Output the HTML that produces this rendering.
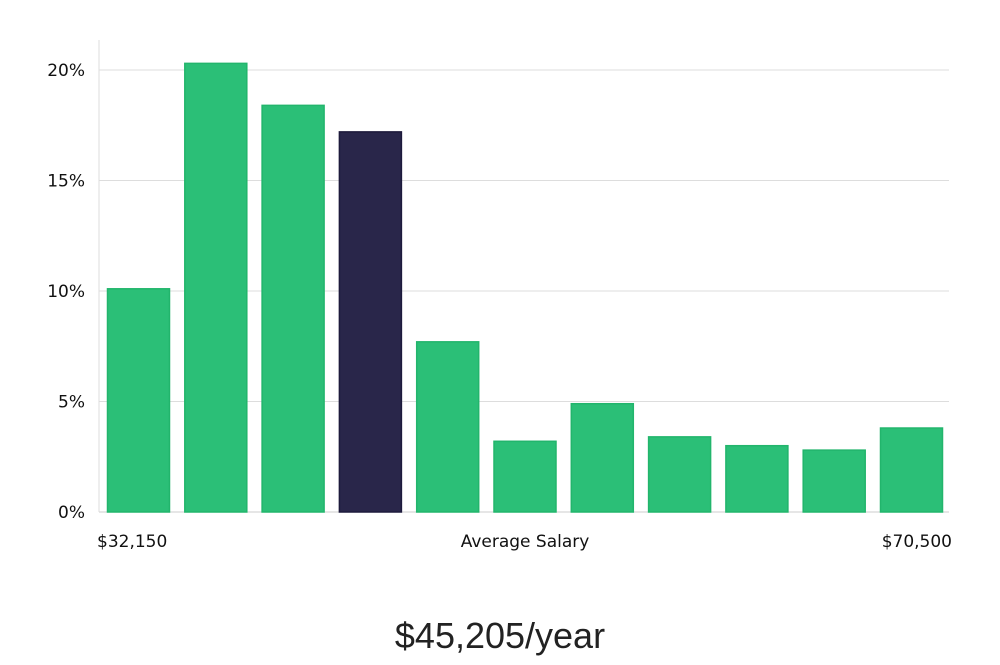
<!DOCTYPE html>
<html><head><meta charset="utf-8"><style>
body{margin:0;background:#fff;}
svg text{font-family:"DejaVu Sans","Liberation Sans",sans-serif;}
</style></head><body>
<svg id="chart" width="1000" height="660" xmlns="http://www.w3.org/2000/svg">
<g id="grid"></g><g id="bars"></g><g id="labels"></g>
<text x="500" y="648" text-anchor="middle" font-size="36" fill="#222" style="font-family:'Liberation Sans',sans-serif">$45,205/year</text>
</svg>
<script>
const values=[10.1,20.3,18.4,17.2,7.7,3.2,4.9,3.4,3.0,2.8,3.8];
const highlight=[false,false,false,true,false,false,false,false,false,false,false];
const yTicks=[0,5,10,15,20];
const yTickLabels=["0%","5%","10%","15%","20%"];
const xLabels=["$32,150","Average Salary","$70,500"];
const NS="http://www.w3.org/2000/svg";
const y=v=>512-v*22.1;
const x=i=>107+i*77.3;
function mk(t,a,p){const e=document.createElementNS(NS,t);for(const k in a)e.setAttribute(k,a[k]);p.appendChild(e);return e;}
const g=document.getElementById('grid');
yTicks.forEach((t,i)=>{
 const l=mk('line',{x1:99,x2:949,y1:y(t),y2:y(t),stroke:i==0?'#ccc':'#ddd','stroke-width':1},g);
 
 
 const tx=mk('text',{x:85,y:y(t)+6,'text-anchor':'end','font-size':17,fill:'#111'},g);
 tx.textContent=yTickLabels[i];
 
 
});
const ax=mk('line',{x1:99,x2:99,y1:40,y2:512,stroke:'#ddd'},g);


const b=document.getElementById('bars');
values.forEach((v,i)=>{
 const r=mk('rect',{x:x(i)+0.5,y:y(v),width:62,height:512-y(v),fill:highlight[i]?'#29264a':'#2bbf77',stroke:highlight[i]?'#1d1a3c':'#22b56c','stroke-width':1.5},b);
 
 
});
const lg=document.getElementById('labels');
[[97,'start'],[525,'middle'],[952,'end']].forEach((p,i)=>{
 const t=mk('text',{x:p[0],y:547,'text-anchor':p[1],'font-size':17,fill:'#111'},lg);
 t.textContent=xLabels[i];
 
 
});
</script>
</body></html>
